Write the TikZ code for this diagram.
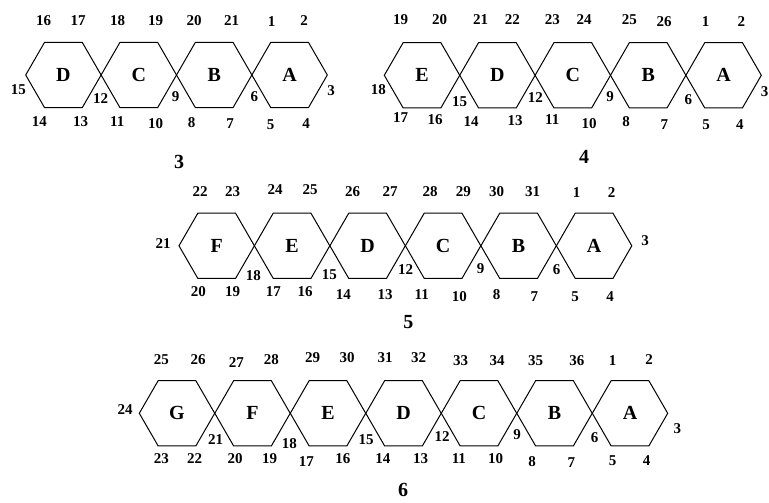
\documentclass[tikz,border=0pt]{standalone}
\usepackage{fontspec}
\setmainfont{Liberation Serif}
\usetikzlibrary{shapes.geometric}
\tikzset{
  hexa/.style={draw,line width=1pt,regular polygon,regular polygon sides=6,minimum size=75.4pt,inner sep=0pt,outer sep=0pt,font=\fontsize{20}{20}\selectfont\bfseries},
  lbl/.style={inner sep=0pt,font=\fontsize{15}{15}\selectfont\bfseries},
  figno/.style={inner sep=0pt,font=\fontsize{20}{20}\selectfont\bfseries}
}
\begin{document}
\begin{tikzpicture}[x=1pt,y=-1pt]
\clip (0,0) rectangle (769,503);
% --- diagram 3
\node[hexa] (d3) at (63.4,75) {D};
\node[hexa] (c3) at (138.8,75) {C};
\node[hexa] (b3) at (214.2,75) {B};
\node[hexa] (a3) at (289.6,75) {A};
\node[lbl] (t16) at (43.5,21) {16};
\node[lbl] (t17) at (78,21) {17};
\node[lbl] (t18) at (117.5,21) {18};
\node[lbl] (t19) at (155.7,21) {19};
\node[lbl] (t20) at (194,21) {20};
\node[lbl] (t21) at (231.7,21) {21};
\node[lbl] (t1) at (271.7,22) {1};
\node[lbl] (t2) at (304,21) {2};
\node[lbl] (t15) at (18.3,90) {15};
\node[lbl] (t3) at (331,91) {3};
\node[lbl] (t12) at (100.7,98.3) {12};
\node[lbl] (t9) at (175.5,96.5) {9};
\node[lbl] (t6) at (254.3,96.5) {6};
\node[lbl] (t14) at (39.3,122) {14};
\node[lbl] (t13) at (80.5,122) {13};
\node[lbl] (t11) at (117.2,122) {11};
\node[lbl] (t10) at (155.7,124) {10};
\node[lbl] (t8) at (191.7,123) {8};
\node[lbl] (t7) at (230,124) {7};
\node[lbl] (t5) at (270.7,125) {5};
\node[lbl] (t4) at (306,124) {4};
\node[figno] (fig3) at (179,162) {3};
% --- diagram 4
\node[hexa] (e4) at (422,75.3) {E};
\node[hexa] (d4) at (497.4,75.3) {D};
\node[hexa] (c4) at (572.8,75.3) {C};
\node[hexa] (b4) at (648.2,75.3) {B};
\node[hexa] (a4) at (723.6,75.3) {A};
\node[lbl] (u19) at (400.7,20) {19};
\node[lbl] (u20) at (439.5,20) {20};
\node[lbl] (u21) at (480.5,20) {21};
\node[lbl] (u22) at (512.3,20) {22};
\node[lbl] (u23) at (552.3,20) {23};
\node[lbl] (u24) at (584,20) {24};
\node[lbl] (u25) at (629.3,20) {25};
\node[lbl] (u26) at (664,22) {26};
\node[lbl] (u1) at (705.5,22) {1};
\node[lbl] (u2) at (741.3,21.5) {2};
\node[lbl] (u18) at (378.3,90) {18};
\node[lbl] (u3) at (764.5,92) {3};
\node[lbl] (u15) at (459.5,101.7) {15};
\node[lbl] (u12) at (535.3,98) {12};
\node[lbl] (u9) at (610,97) {9};
\node[lbl] (u6) at (688.3,100) {6};
\node[lbl] (u17) at (400.7,118) {17};
\node[lbl] (u16) at (435,120) {16};
\node[lbl] (u14) at (471,122) {14};
\node[lbl] (u13) at (515,121) {13};
\node[lbl] (u11) at (552.3,120) {11};
\node[lbl] (u10) at (589,124) {10};
\node[lbl] (u8) at (626,122) {8};
\node[lbl] (u7) at (664.3,125) {7};
\node[lbl] (u5) at (706,125) {5};
\node[lbl] (u4) at (739.8,125) {4};
\node[figno] (fig4) at (584,156.7) {4};
% --- diagram 5
\node[hexa] (f5) at (216.7,245.8) {F};
\node[hexa] (e5) at (292.1,245.8) {E};
\node[hexa] (d5) at (367.6,245.8) {D};
\node[hexa] (c5) at (443.1,245.8) {C};
\node[hexa] (b5) at (518.6,245.8) {B};
\node[hexa] (a5) at (594.1,245.8) {A};
\node[lbl] (v22) at (200,191.7) {22};
\node[lbl] (v23) at (232.7,191.7) {23};
\node[lbl] (v24) at (275,190) {24};
\node[lbl] (v25) at (310,190) {25};
\node[lbl] (v26) at (352.7,191.7) {26};
\node[lbl] (v27) at (390,191.7) {27};
\node[lbl] (v28) at (430,191.7) {28};
\node[lbl] (v29) at (463.3,191.7) {29};
\node[lbl] (v30) at (496.7,191.7) {30};
\node[lbl] (v31) at (532.7,191.7) {31};
\node[lbl] (v1) at (576.7,193) {1};
\node[lbl] (v2) at (611.7,193) {2};
\node[lbl] (v21) at (163,244) {21};
\node[lbl] (v3) at (645,241) {3};
\node[lbl] (v18) at (253.3,276) {18};
\node[lbl] (v15) at (329.3,274.3) {15};
\node[lbl] (v12) at (405.7,270) {12};
\node[lbl] (v9) at (480.7,268.3) {9};
\node[lbl] (v6) at (556.7,270) {6};
\node[lbl] (v20) at (198.3,291.7) {20};
\node[lbl] (v19) at (232.7,291.7) {19};
\node[lbl] (v17) at (273.3,291.7) {17};
\node[lbl] (v16) at (305,291.7) {16};
\node[lbl] (v14) at (343.3,295) {14};
\node[lbl] (v13) at (385,295) {13};
\node[lbl] (v11) at (421.7,295) {11};
\node[lbl] (v10) at (459.3,297) {10};
\node[lbl] (v8) at (496.7,295) {8};
\node[lbl] (v7) at (534.3,297) {7};
\node[lbl] (v5) at (575,297) {5};
\node[lbl] (v4) at (610,297) {4};
\node[figno] (fig5) at (408.3,321.7) {5};
% --- diagram 6
\node[hexa] (g6) at (177,413.3) {G};
\node[hexa] (f6) at (252.5,413.3) {F};
\node[hexa] (e6) at (328,413.3) {E};
\node[hexa] (d6) at (403.5,413.3) {D};
\node[hexa] (c6) at (479,413.3) {C};
\node[hexa] (b6) at (554.5,413.3) {B};
\node[hexa] (a6) at (630,413.3) {A};
\node[lbl] (w25) at (161.4,360) {25};
\node[lbl] (w26) at (198.2,360) {26};
\node[lbl] (w27) at (236.4,363) {27};
\node[lbl] (w28) at (271.4,360) {28};
\node[lbl] (w29) at (312.5,358) {29};
\node[lbl] (w30) at (347.1,358) {30};
\node[lbl] (w31) at (385,358) {31};
\node[lbl] (w32) at (418.6,358) {32};
\node[lbl] (w33) at (460.7,361) {33};
\node[lbl] (w34) at (497.1,361) {34};
\node[lbl] (w35) at (535.7,361) {35};
\node[lbl] (w36) at (576.8,361) {36};
\node[lbl] (w1) at (612.5,361) {1};
\node[lbl] (w2) at (649,360) {2};
\node[lbl] (w24) at (125,410) {24};
\node[lbl] (w3) at (677.3,428.3) {3};
\node[lbl] (w21) at (215.5,439.3) {21};
\node[lbl] (w18) at (289.3,443.3) {18};
\node[lbl] (w15) at (366,439.3) {15};
\node[lbl] (w12) at (442,436.7) {12};
\node[lbl] (w9) at (517,435) {9};
\node[lbl] (w6) at (594.6,437.3) {6};
\node[lbl] (w23) at (161.4,459) {23};
\node[lbl] (w22) at (194.6,459) {22};
\node[lbl] (w20) at (235,459) {20};
\node[lbl] (w19) at (269.6,459) {19};
\node[lbl] (w17) at (306.4,462) {17};
\node[lbl] (w16) at (342.9,459) {16};
\node[lbl] (w14) at (382.9,459) {14};
\node[lbl] (w13) at (420.7,459) {13};
\node[lbl] (w11) at (458.9,459) {11};
\node[lbl] (w10) at (495.7,459) {10};
\node[lbl] (w8) at (532.1,462) {8};
\node[lbl] (w7) at (571.4,463) {7};
\node[lbl] (w5) at (612.5,461) {5};
\node[lbl] (w4) at (646.7,461) {4};
\node[figno] (fig6) at (403,490) {6};
\end{tikzpicture}
\end{document}
